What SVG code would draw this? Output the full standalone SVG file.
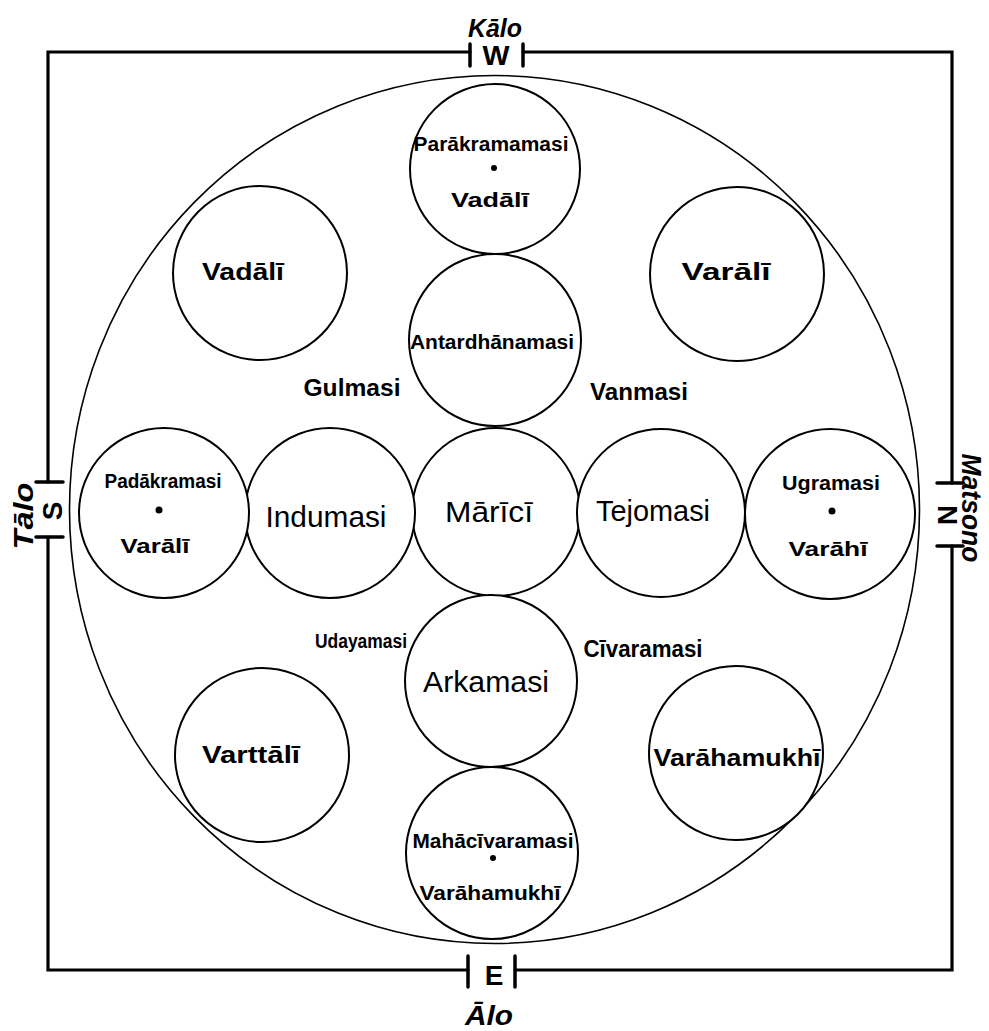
<svg xmlns="http://www.w3.org/2000/svg" width="989" height="1031" viewBox="0 0 989 1031">
<style>
  .frame{stroke:#000;stroke-width:3.2;fill:none;stroke-linecap:round}
  .tick{stroke:#000;stroke-width:3.5;fill:none;stroke-linecap:round}
  .big{stroke:#000;stroke-width:1.6;fill:none}
  .node{stroke:#000;stroke-width:2;fill:#fff}
  text{font-family:"Liberation Sans","DejaVu Sans",sans-serif;fill:#000;text-anchor:middle}
  .lg{font-size:30px}
  .md{font-size:23px;font-weight:bold}
  .sm{font-size:20px;font-weight:bold}
  .dir{font-size:28px;font-weight:bold}
  .lbl{font-weight:bold;font-style:italic}
  .dot{fill:#000}
</style>
<rect width="989" height="1031" fill="#fff"/>
<g id="frame">
  <path class="frame" d="M470 52 H48 V482 M48 537 V970 H468 M515 970 H952 V546 M952 483 V52 H523"/>
  <path class="tick" d="M470 44 V66 M523 44 V66 M468 956 V987 M515 956 V987 M36 482 H63 M36 537 H63 M937 483 H963 M937 546 H963"/>
  <text class="dir" x="496" y="65" font-size="26" textLength="27" lengthAdjust="spacingAndGlyphs">W</text>
  <text class="lbl" x="495" y="37" font-size="26" textLength="54" lengthAdjust="spacingAndGlyphs">Kālo</text>
  <text class="dir" x="494" y="985" font-size="32">E</text>
  <text class="lbl" x="489" y="1025" font-size="28" textLength="48" lengthAdjust="spacingAndGlyphs">Ālo</text>
  <text class="dir" transform="translate(62,511) rotate(-90)" font-size="32">S</text>
  <text class="lbl" transform="translate(33,516) rotate(-90)" font-size="28" textLength="67" lengthAdjust="spacingAndGlyphs">Tālo</text>
  <text class="dir" transform="translate(938,515) rotate(90)" font-size="26">N</text>
  <text class="lbl" transform="translate(962,508) rotate(90)" font-size="28" textLength="109" lengthAdjust="spacingAndGlyphs">Matsono</text>
</g>
<g id="outer-circle">
  <ellipse class="big" cx="494.5" cy="509.5" rx="425" ry="434"/>
</g>
<g id="node-parakramamasi">
  <circle class="node" cx="495" cy="169" r="85"/>
  <text class="sm" x="491" y="151" textLength="155" lengthAdjust="spacingAndGlyphs">Parākramamasi</text>
  <circle class="dot" cx="494" cy="168" r="3"/>
  <text class="sm" x="490" y="207" textLength="78" lengthAdjust="spacingAndGlyphs">Vadālī</text>
</g>
<g id="node-antardhanamasi">
  <circle class="node" cx="495" cy="340" r="86"/>
  <text class="sm" x="492" y="349" textLength="164" lengthAdjust="spacingAndGlyphs">Antardhānamasi</text>
</g>
<g id="node-marici">
  <circle class="node" cx="496" cy="512" r="84"/>
  <text class="lg" x="489" y="522" textLength="88" lengthAdjust="spacingAndGlyphs">Mārīcī</text>
</g>
<g id="node-arkamasi">
  <circle class="node" cx="491" cy="681" r="86"/>
  <text class="lg" x="486" y="692" textLength="126" lengthAdjust="spacingAndGlyphs">Arkamasi</text>
</g>
<g id="node-mahacivaramasi">
  <circle class="node" cx="492" cy="853" r="86"/>
  <text class="sm" x="493" y="848" textLength="161" lengthAdjust="spacingAndGlyphs">Mahācīvaramasi</text>
  <circle class="dot" cx="493" cy="858" r="3"/>
  <text class="sm" x="490" y="900" textLength="141" lengthAdjust="spacingAndGlyphs">Varāhamukhī</text>
</g>
<g id="node-indumasi">
  <circle class="node" cx="330" cy="513" r="85"/>
  <text class="lg" x="326" y="527" textLength="121" lengthAdjust="spacingAndGlyphs">Indumasi</text>
</g>
<g id="node-padakramasi">
  <circle class="node" cx="164" cy="513" r="85"/>
  <text class="sm" x="163" y="488" textLength="117" lengthAdjust="spacingAndGlyphs">Padākramasi</text>
  <circle class="dot" cx="159" cy="510" r="3.5"/>
  <text class="sm" x="155" y="553" textLength="69" lengthAdjust="spacingAndGlyphs">Varālī</text>
</g>
<g id="node-tejomasi">
  <circle class="node" cx="661" cy="513" r="84"/>
  <text class="lg" x="653" y="521" textLength="114" lengthAdjust="spacingAndGlyphs">Tejomasi</text>
</g>
<g id="node-ugramasi">
  <circle class="node" cx="830" cy="514" r="85"/>
  <text class="sm" x="831" y="490" textLength="98" lengthAdjust="spacingAndGlyphs">Ugramasi</text>
  <circle class="dot" cx="832" cy="511" r="3.5"/>
  <text class="sm" x="828" y="556" textLength="79" lengthAdjust="spacingAndGlyphs">Varāhī</text>
</g>
<g id="node-vadali">
  <circle class="node" cx="260" cy="273" r="87"/>
  <text class="md" x="243" y="280" textLength="82" lengthAdjust="spacingAndGlyphs">Vadālī</text>
</g>
<g id="node-varali">
  <circle class="node" cx="737" cy="274" r="87"/>
  <text class="md" x="726" y="280" textLength="89" lengthAdjust="spacingAndGlyphs">Varālī</text>
</g>
<g id="node-varttali">
  <circle class="node" cx="262" cy="755" r="87"/>
  <text class="md" x="251" y="763" textLength="98" lengthAdjust="spacingAndGlyphs">Varttālī</text>
</g>
<g id="node-varahamukhi">
  <circle class="node" cx="736" cy="753" r="87"/>
  <text class="md" x="737" y="766" textLength="167" lengthAdjust="spacingAndGlyphs">Varāhamukhī</text>
</g>
<g id="label-gulmasi"><text class="md" x="352" y="396" textLength="97" lengthAdjust="spacingAndGlyphs">Gulmasi</text></g>
<g id="label-vanmasi"><text class="md" x="639" y="400" textLength="98" lengthAdjust="spacingAndGlyphs">Vanmasi</text></g>
<g id="label-udayamasi"><text class="sm" x="361" y="648" textLength="92" lengthAdjust="spacingAndGlyphs">Udayamasi</text></g>
<g id="label-civaramasi"><text class="md" x="643" y="657" textLength="119" lengthAdjust="spacingAndGlyphs">Cīvaramasi</text></g>
</svg>
